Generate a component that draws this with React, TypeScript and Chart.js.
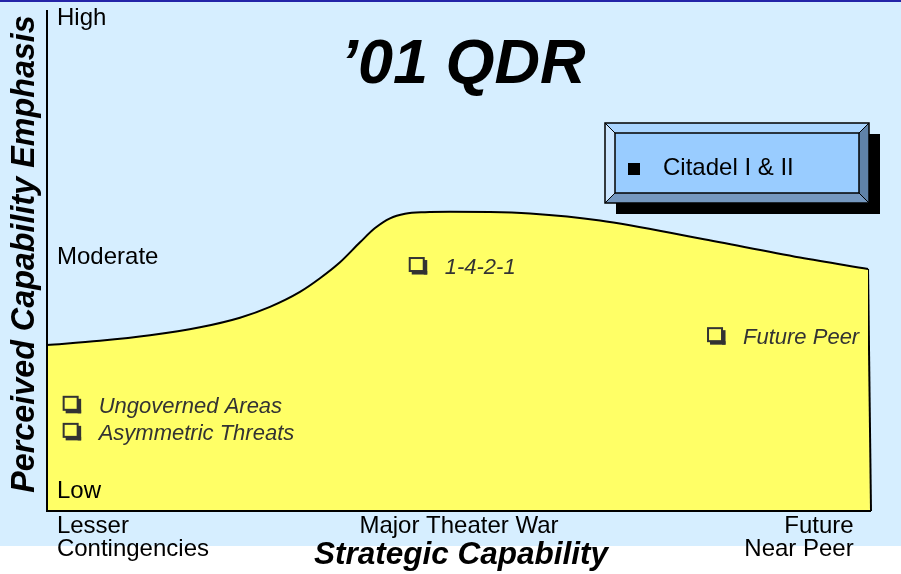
import { useEffect, useRef } from "react";
import { Chart, registerables } from "chart.js";

Chart.register(...registerables);

// Curve of perceived capability emphasis (0..100 both axes)
const curveX = [0, 6.43, 12.5, 18.57, 23.42, 27.06, 30.7, 33.13, 35.56, 37.99, 39.81, 41.63, 43.45, 45.87, 48.91, 53.76, 58.62, 67.11, 79.25, 91.38, 99.64];
const curveY = [33.13, 33.97, 35.07, 36.67, 38.58, 40.74, 43.73, 46.45, 49.64, 53.63, 56.47, 58.42, 59.32, 59.64, 59.72, 59.68, 59.38, 57.98, 54.39, 50.6, 48.3];
const edgeX = [99.64, 100];
const edgeY = [48.3, 0];

const levelLabels = ["High", "Moderate", "Low"];
const levelValues = [98.4, 50.7, 4.0];

const categoryLabels = [["Lesser", "Contingencies"], ["Major Theater War"], ["Future", "Near Peer"]];
const categoryValues = [1.2, 50, 97.9];

const itemLabels = ["Ungoverned Areas", "Asymmetric Threats", "1-4-2-1", "Future Peer"];
const itemX = [1.9, 1.9, 43.9, 80.1];
const itemY = [19.6, 14.2, 47.3, 33.3];

const titleText = "\u201901 QDR";
const xTitle = "Strategic Capability";
const yTitle = "Perceived Capability Emphasis";
const boxLabel = "Citadel I & II";

const FONT = '"Liberation Sans", Arial, Helvetica, sans-serif';

export default function App() {
  const ref = useRef<HTMLCanvasElement | null>(null);

  useEffect(() => {
    document.body.style.margin = "0";
    const canvas = ref.current;
    if (!canvas) return;

    const bgPlugin = {
      id: "bg",
      beforeDraw(chart: any) {
        const ctx = chart.ctx;
        const w = chart.width;
        const h = chart.height;
        ctx.save();
        ctx.fillStyle = "#ffffff";
        ctx.fillRect(0, 0, w, h);
        ctx.fillStyle = "#D6EEFF";
        ctx.fillRect(0, 0, w, 546);
        ctx.fillStyle = "#2424A8";
        ctx.fillRect(0, 0, w, 2);
        ctx.restore();
      },
    };

    const drawCheck = (ctx: CanvasRenderingContext2D, x: number, baseline: number) => {
      const top = baseline - 17;
      ctx.fillStyle = "#333333";
      ctx.fillRect(x + 15, top + 3, 3.5, 14.5);
      ctx.fillRect(x + 3, top + 14, 15.5, 3.5);
      ctx.strokeStyle = "#333333";
      ctx.lineWidth = 2;
      ctx.strokeRect(x + 1, top + 1, 14, 13);
    };

    const overlayPlugin = {
      id: "overlay",
      afterDatasetsDraw(chart: any) {
        const ctx: CanvasRenderingContext2D = chart.ctx;
        const area = chart.chartArea;
        const xs = chart.scales.x;
        const ys = chart.scales.y;
        ctx.save();

        // axes
        ctx.strokeStyle = "#000";
        ctx.lineWidth = 2;
        ctx.beginPath();
        ctx.moveTo(area.left, area.top);
        ctx.lineTo(area.left, area.bottom);
        ctx.lineTo(area.right, area.bottom);
        ctx.stroke();

        // level labels
        ctx.fillStyle = "#000";
        ctx.font = `24px ${FONT}`;
        ctx.textAlign = "left";
        ctx.textBaseline = "middle";
        levelLabels.forEach((t, i) => {
          ctx.fillText(t, area.left + 10, ys.getPixelForValue(levelValues[i]));
        });

        // category labels
        ctx.textBaseline = "alphabetic";
        categoryLabels.forEach((lines, i) => {
          ctx.textAlign = i === 0 ? "left" : i === categoryLabels.length - 1 ? "right" : "center";
          const px = xs.getPixelForValue(categoryValues[i]);
          lines.forEach((ln, j) => {
            ctx.fillText(ln, px, area.bottom + 22 + j * 23);
          });
        });

        // axis titles
        ctx.font = `italic bold 31.5px ${FONT}`;
        ctx.textAlign = "center";
        ctx.fillText(xTitle, 461, 564);
        ctx.save();
        ctx.font = `italic bold 32.3px ${FONT}`;
        ctx.translate(34, 254);
        ctx.rotate(-Math.PI / 2);
        ctx.fillText(yTitle, 0, 0);
        ctx.restore();

        // title
        ctx.font = `italic bold 63px ${FONT}`;
        ctx.textAlign = "center";
        ctx.fillText(titleText, 463, 83);

        // items
        ctx.font = `italic 22px ${FONT}`;
        ctx.textAlign = "left";
        itemLabels.forEach((t, i) => {
          const px = xs.getPixelForValue(itemX[i]);
          const py = ys.getPixelForValue(itemY[i]);
          drawCheck(ctx, px, py);
          ctx.fillStyle = "#333333";
          ctx.fillText(t, px + 36, py);
        });

        // Citadel box
        const L = 605, T = 123, R = 869, B = 203, b = 10;
        ctx.fillStyle = "#000";
        ctx.fillRect(L + 11, T + 11, R - L, B - T);
        ctx.fillStyle = "#99CCFF";
        ctx.fillRect(L, T, R - L, B - T);
        const poly = (pts: number[][], col: string) => {
          ctx.beginPath();
          ctx.moveTo(pts[0][0], pts[0][1]);
          for (let k = 1; k < pts.length; k++) ctx.lineTo(pts[k][0], pts[k][1]);
          ctx.closePath();
          ctx.fillStyle = col;
          ctx.fill();
        };
        poly([[L, T], [R, T], [R - b, T + b], [L + b, T + b]], "#AAD5FF");
        poly([[L, T], [L + b, T + b], [L + b, B - b], [L, B]], "#CCE6FF");
        poly([[R, T], [R, B], [R - b, B - b], [R - b, T + b]], "#5F82A8");
        poly([[L, B], [L + b, B - b], [R - b, B - b], [R, B]], "#7598C0");
        ctx.strokeStyle = "#000";
        ctx.lineWidth = 1.5;
        ctx.strokeRect(L, T, R - L, B - T);
        ctx.strokeRect(L + b, T + b, R - L - 2 * b, B - T - 2 * b);
        ctx.lineWidth = 1;
        ctx.beginPath();
        ctx.moveTo(L, T); ctx.lineTo(L + b, T + b);
        ctx.moveTo(R, T); ctx.lineTo(R - b, T + b);
        ctx.moveTo(L, B); ctx.lineTo(L + b, B - b);
        ctx.moveTo(R, B); ctx.lineTo(R - b, B - b);
        ctx.stroke();
        ctx.fillStyle = "#000";
        ctx.fillRect(628, 163, 12, 12);
        ctx.font = `24px ${FONT}`;
        ctx.textAlign = "left";
        ctx.textBaseline = "alphabetic";
        ctx.fillText(boxLabel, 663, 175);

        ctx.restore();
      },
    };

    const chart = new Chart(canvas, {
      type: "line",
      data: {
        datasets: [
          {
            data: curveX.map((x, i) => ({ x, y: curveY[i] })),
            borderColor: "#000",
            borderWidth: 2,
            backgroundColor: "#FFFF66",
            fill: "origin",
            pointRadius: 0,
            cubicInterpolationMode: "monotone",
            clip: false,
          } as any,
          {
            data: edgeX.map((x, i) => ({ x, y: edgeY[i] })),
            borderColor: "#000",
            borderWidth: 2,
            backgroundColor: "#FFFF66",
            fill: "origin",
            pointRadius: 0,
            tension: 0,
            clip: false,
          } as any,
        ],
      },
      options: {
        animation: false,
        responsive: false,
        devicePixelRatio: 1,
        layout: { padding: { left: 47, right: 30, top: 10, bottom: 63 } },
        plugins: { legend: { display: false }, tooltip: { enabled: false } },
        scales: {
          x: { type: "linear", min: 0, max: 100, display: false },
          y: { type: "linear", min: 0, max: 100, display: false },
        },
      },
      plugins: [bgPlugin, overlayPlugin],
    });

    return () => chart.destroy();
  }, []);

  return (
    <div style={{ width: 901, height: 574 }}>
      <canvas ref={ref} width={901} height={574} style={{ width: 901, height: 574, display: "block" }} />
    </div>
  );
}
